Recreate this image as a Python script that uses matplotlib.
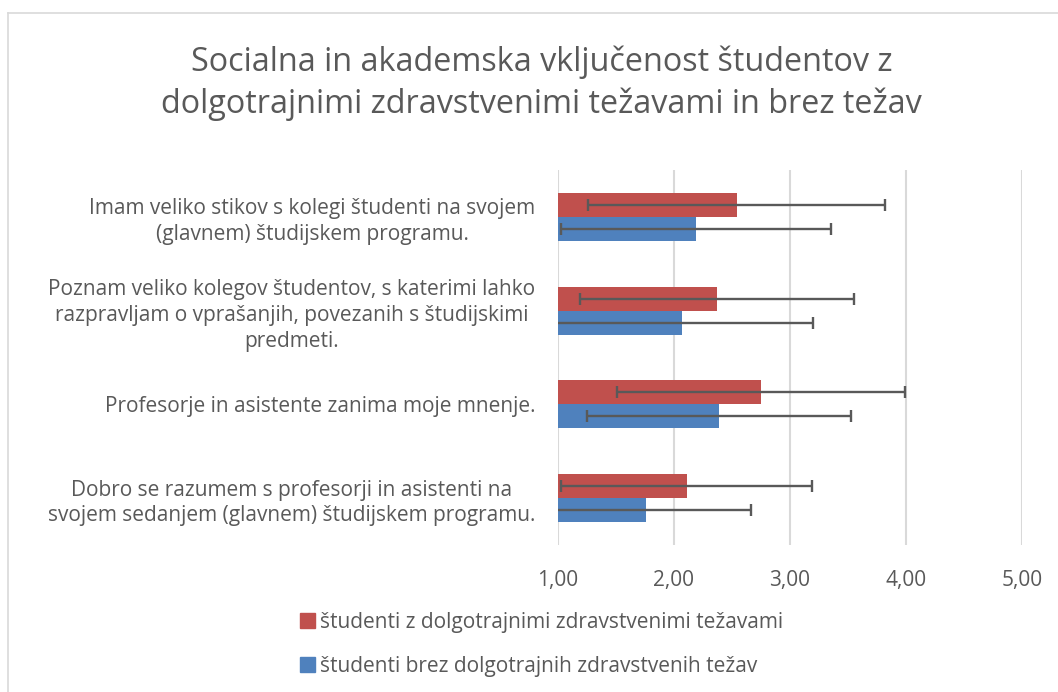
import matplotlib.pyplot as plt
from matplotlib.lines import Line2D
from matplotlib.ticker import FuncFormatter
import numpy as np

plt.rcParams['font.family'] = ['Open Sans', 'DejaVu Sans']

categories = [
    "Imam veliko stikov s kolegi študenti na svojem\n(glavnem) študijskem programu.",
    "Poznam veliko kolegov študentov, s katerimi lahko\nrazpravljam o vprašanjih, povezanih s študijskimi\npredmeti.",
    "Profesorje in asistente zanima moje mnenje.",
    "Dobro se razumem s profesorji in asistenti na\nsvojem sedanjem (glavnem) študijskem programu.",
]
series_names = ["študenti z dolgotrajnimi zdravstvenimi težavami",
                "študenti brez dolgotrajnih zdravstvenih težav"]
with_problems = [2.54, 2.37, 2.75, 2.11]
with_problems_sd = [1.28, 1.18, 1.24, 1.08]
without_problems = [2.19, 2.07, 2.39, 1.76]
without_problems_sd = [1.16, 1.13, 1.14, 0.90]
xticks = [1, 2, 3, 4, 5]

red = '#C0504D'
blue = '#4F81BD'
txt = '#595959'

fig = plt.figure(figsize=(10.58, 6.92), dpi=100)
ax = fig.add_axes([0.5274, 0.2124, 0.4386, 0.542])

y = np.arange(len(categories))
h = 0.257
base = 1.0
ekw = dict(ecolor='#595959', elinewidth=1.7, capsize=4, capthick=1.7)
ax.barh(y - h / 2, np.array(with_problems) - base, left=base, height=h,
        color=red, xerr=with_problems_sd, error_kw=ekw)
ax.barh(y + h / 2, np.array(without_problems) - base, left=base, height=h,
        color=blue, xerr=without_problems_sd, error_kw=ekw)

ax.set_xlim(1, 5)
ax.set_ylim(3.5, -0.5)
ax.set_xticks(xticks)
ax.xaxis.set_major_formatter(FuncFormatter(lambda v, p: f"{v:.2f}".replace('.', ',')))
ax.grid(axis='x', color='#d9d9d9', linewidth=1.5)
ax.set_axisbelow(True)
for s in ax.spines.values():
    s.set_visible(False)
ax.tick_params(length=0, colors=txt, labelsize=15)
ax.tick_params(axis='x', pad=18)
ax.tick_params(axis='y', pad=16.5)
ax.set_yticks(y)
ax.set_yticklabels(categories)
for t in ax.get_yticklabels():
    t.set_multialignment('center')
    t.set_linespacing(1.3)

fig.text(0.512, 0.88, "Socialna in akademska vključenost študentov z\ndolgotrajnimi zdravstvenimi težavami in brez težav",
         ha='center', va='center', fontsize=23.3, color=txt, linespacing=1.35)

handles = [plt.Rectangle((0, 0), 1, 1, color=red), plt.Rectangle((0, 0), 1, 1, color=blue)]
fig.legend(handles, series_names, loc='upper left', bbox_to_anchor=(0.276, 0.128),
           frameon=False, fontsize=15, labelcolor=txt, handlelength=0.7,
           handleheight=0.7, handletextpad=0.25, labelspacing=1.1, borderaxespad=0)

fig.add_artist(Line2D([0.008, 1.0], [1 - 12.5 / 692, 1 - 12.5 / 692], color='#d9d9d9', linewidth=1.2))
fig.add_artist(Line2D([0.008, 0.008], [0, 1 - 12.5 / 692], color='#d9d9d9', linewidth=1.2))

fig.savefig('out.png', dpi=100)
